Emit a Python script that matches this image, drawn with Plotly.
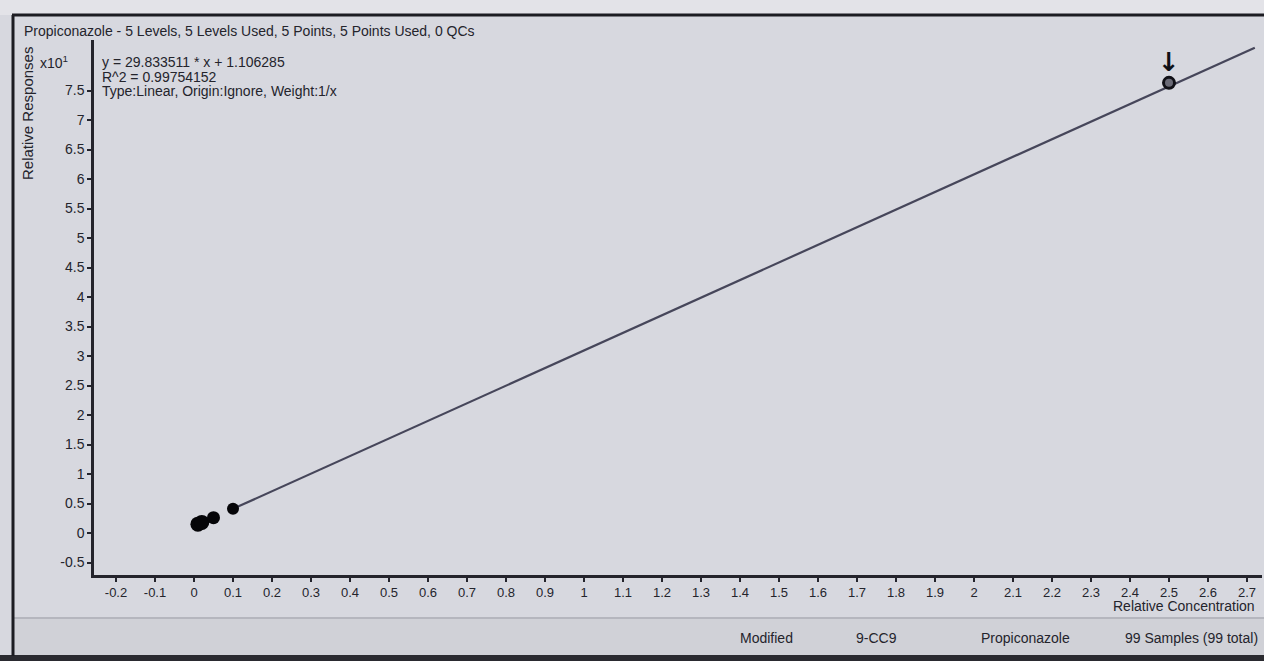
import plotly.graph_objects as go

# ---- data ----
concentration = [0.01, 0.02, 0.05, 0.1, 2.5]          # Relative Concentration
response = [1.5, 1.8, 2.6, 4.1, 76.3]                 # Relative Responses (raw)
response_scale = 10                                   # axis shows x10^1
slope = 29.833511
intercept = 1.106285
fit_x = [0.1, 2.72]

x_tick_vals = [-0.2, -0.1, 0, 0.1, 0.2, 0.3, 0.4, 0.5, 0.6, 0.7, 0.8, 0.9, 1.0,
               1.1, 1.2, 1.3, 1.4, 1.5, 1.6, 1.7, 1.8, 1.9, 2.0, 2.1, 2.2, 2.3,
               2.4, 2.5, 2.6, 2.7]
x_tick_text = ["-0.2", "-0.1", "0", "0.1", "0.2", "0.3", "0.4", "0.5", "0.6", "0.7",
               "0.8", "0.9", "1", "1.1", "1.2", "1.3", "1.4", "1.5", "1.6", "1.7",
               "1.8", "1.9", "2", "2.1", "2.2", "2.3", "2.4", "2.5", "2.6", "2.7"]
y_tick_vals = [-0.5, 0, 0.5, 1, 1.5, 2, 2.5, 3, 3.5, 4, 4.5, 5, 5.5, 6, 6.5, 7, 7.5]
y_tick_text = ["-0.5", "0", "0.5", "1", "1.5", "2", "2.5", "3", "3.5", "4", "4.5",
               "5", "5.5", "6", "6.5", "7", "7.5"]

title_text = "Propiconazole - 5 Levels, 5 Levels Used, 5 Points, 5 Points Used, 0 QCs"
eq_text = "y = 29.833511 * x + 1.106285"
r2_text = "R^2 = 0.99754152"
type_text = "Type:Linear, Origin:Ignore, Weight:1/x"
status_items = ["Modified", "9-CC9", "Propiconazole", "99 Samples (99 total)"]

# ---- geometry (pixels) ----
W, H = 1264, 661
L, R, T, B = 94, 1262, 40, 575
pw, ph = R - L, B - T


def px(x):
    return (x - L) / pw


def py(y):
    return (B - y) / ph


FONT = "Liberation Sans, Arial, sans-serif"
TXT = "#24242c"
BG = "#d7d8df"

fig = go.Figure()

fit_y = [(slope * v + intercept) / response_scale for v in fit_x]
fig.add_trace(go.Scatter(x=fit_x, y=fit_y, mode="lines",
                         line=dict(color="#46465a", width=2.2),
                         hoverinfo="skip", showlegend=False))

yv = [r / response_scale for r in response]
fig.add_trace(go.Scatter(x=concentration[:4], y=yv[:4], mode="markers",
                         opacity=1,
                         marker=dict(color="#050508", size=[15, 15, 13, 12],
                                     opacity=1, line=dict(width=0)),
                         showlegend=False))
fig.add_trace(go.Scatter(x=concentration[4:], y=yv[4:], mode="markers",
                         opacity=1,
                         marker=dict(color="#6a6a76", size=11, opacity=1,
                                     line=dict(color="#101016", width=3)),
                         showlegend=False))

shapes = [
    dict(type="rect", xref="paper", yref="paper", x0=px(-5), x1=px(W + 5),
         y0=py(15), y1=py(-5), fillcolor="#e3e3e8", line=dict(width=0), layer="below"),
    dict(type="rect", xref="paper", yref="paper", x0=px(13), x1=px(W + 5),
         y0=py(655), y1=py(618), fillcolor="#d0d1d7", line=dict(width=0), layer="below"),
    dict(type="line", xref="paper", yref="paper", x0=px(13), x1=px(W + 5),
         y0=py(618), y1=py(618), line=dict(color="#b5b6be", width=2)),
    dict(type="rect", xref="paper", yref="paper", x0=px(-5), x1=px(W + 5),
         y0=py(H + 5), y1=py(655), fillcolor="#2a2a30", line=dict(width=0)),
    dict(type="line", xref="paper", yref="paper", x0=px(12), x1=px(W + 5),
         y0=py(15), y1=py(15), line=dict(color="#1c1c22", width=3)),
    dict(type="line", xref="paper", yref="paper", x0=px(13), x1=px(13),
         y0=py(15), y1=py(656), line=dict(color="#1c1c22", width=3)),
]

ann = [
    dict(text=title_text, x=px(22), y=py(31), xanchor="left", yanchor="middle",
         font=dict(size=14, color=TXT)),
    dict(text="x10<sup>1</sup>", x=px(70), y=py(62), xanchor="right", yanchor="middle",
         font=dict(size=14, color=TXT)),
    dict(text=eq_text, x=px(100), y=py(62), xanchor="left", yanchor="middle",
         font=dict(size=14, color=TXT)),
    dict(text=r2_text, x=px(100), y=py(77), xanchor="left", yanchor="middle",
         font=dict(size=14, color=TXT)),
    dict(text=type_text, x=px(100), y=py(91), xanchor="left", yanchor="middle",
         font=dict(size=14, color=TXT)),
    dict(text="Relative Responses", x=px(27), y=py(114), textangle=-90,
         xanchor="center", yanchor="middle", font=dict(size=15, color=TXT)),
    dict(text="Relative Concentration", x=px(1257), y=py(606), xanchor="right",
         yanchor="middle", font=dict(size=14, color=TXT)),
    dict(text=status_items[0], x=px(738), y=py(638), xanchor="left", yanchor="middle",
         font=dict(size=14, color=TXT)),
    dict(text=status_items[1], x=px(854), y=py(638), xanchor="left", yanchor="middle",
         font=dict(size=14, color=TXT)),
    dict(text=status_items[2], x=px(979), y=py(638), xanchor="left", yanchor="middle",
         font=dict(size=14, color=TXT)),
    dict(text=status_items[3], x=px(1260), y=py(638), xanchor="right", yanchor="middle",
         font=dict(size=14, color=TXT)),
    # downward arrow marking the selected point
    dict(text="<b>\u2193</b>", x=concentration[4], y=yv[4], xref="x", yref="y",
         xanchor="center", yanchor="bottom", yshift=4,
         font=dict(size=26, color="#101016", family="DejaVu Sans"),
         showarrow=False),
]
for a in ann:
    a.setdefault("xref", "paper")
    a.setdefault("yref", "paper")
    a["showarrow"] = False

fig.update_layout(
    width=W, height=H,
    margin=dict(l=L, r=W - R, t=T, b=H - B),
    paper_bgcolor=BG, plot_bgcolor=BG,
    font=dict(family=FONT, size=14, color=TXT),
    shapes=shapes, annotations=ann,
    showlegend=False,
)
fig.update_xaxes(range=[(L - 194) / 390, (R - 194) / 390],
                 tickvals=x_tick_vals, ticktext=x_tick_text,
                 showgrid=False, zeroline=False, showline=True,
                 linecolor="#24242c", linewidth=2.5, ticks="outside",
                 ticklen=4, tickcolor="#24242c", tickwidth=1.5,
                 tickfont=dict(size=13, color=TXT))
fig.update_yaxes(range=[(533 - B) / 59, (533 - T) / 59],
                 tickvals=y_tick_vals, ticktext=y_tick_text,
                 showgrid=False, zeroline=False, showline=True,
                 linecolor="#24242c", linewidth=2.5, ticks="outside",
                 ticklen=4, tickcolor="#24242c", tickwidth=1.5,
                 tickfont=dict(size=14, color=TXT))

fig.write_html("out.html", config={"displayModeBar": False},
               post_script="document.body.style.margin='0';")
